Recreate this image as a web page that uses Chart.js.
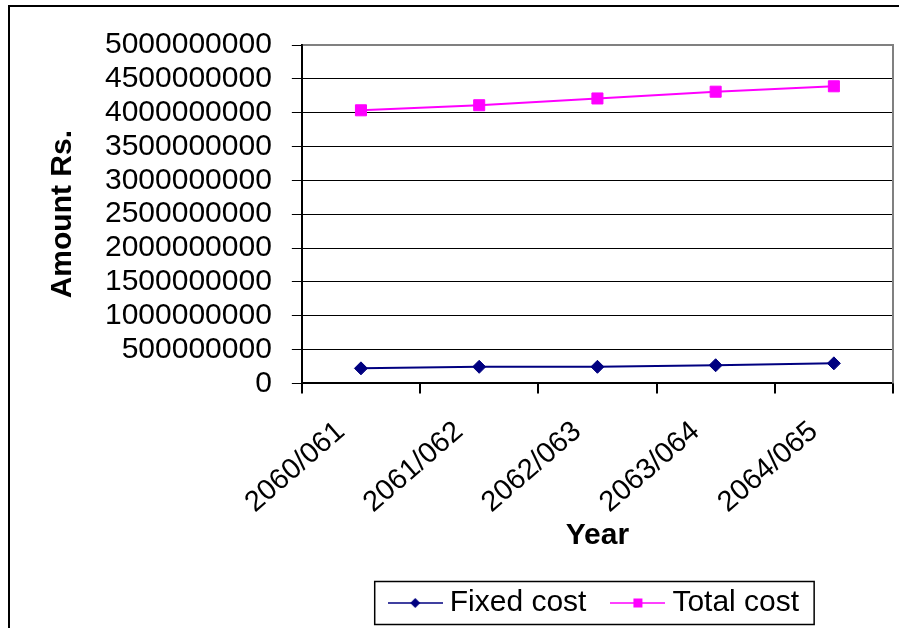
<!DOCTYPE html>
<html>
<head>
<meta charset="utf-8">
<script src="https://cdn.jsdelivr.net/npm/chart.js@4.4.1/dist/chart.umd.min.js"></script>
<style>
  html, body { margin: 0; padding: 0; background: #fff; overflow: hidden; }
  canvas { display: block; }
</style>
</head>
<body>
<canvas id="costChart" width="899" height="628"></canvas>
<script>
// Fiscal years (Nepali calendar) and cost series in rupees
const years = ['2060/061', '2061/062', '2062/063', '2063/064', '2064/065'];
const fixedCost = [222000000, 245000000, 245000000, 268000000, 296000000];
const totalCost = [4035000000, 4110000000, 4210000000, 4310000000, 4390000000];
const seriesNames = ['Fixed cost', 'Total cost'];
const yMin = 0;
const yMax = 5000000000;
const yStep = 500000000;

const FONT = '"Liberation Sans", Arial, Helvetica, sans-serif';
const NAVY = '#000080';
const MAGENTA = '#FF00FF';

// Small line-with-marker swatch used as the legend symbol
function legendSwatch(color, shape) {
  const c = document.createElement('canvas');
  c.width = 55;
  c.height = 16;
  const g = c.getContext('2d');
  g.strokeStyle = color;
  g.lineWidth = 1.5;
  g.beginPath();
  g.moveTo(0, 8);
  g.lineTo(55, 8);
  g.stroke();
  g.fillStyle = color;
  if (shape === 'diamond') {
    g.beginPath();
    g.moveTo(22.5, 8);
    g.lineTo(27.5, 3);
    g.lineTo(32.5, 8);
    g.lineTo(27.5, 13);
    g.closePath();
    g.fill();
  } else {
    g.fillRect(23, 3.5, 9, 9);
  }
  return c;
}
const swatches = [legendSwatch(NAVY, 'diamond'), legendSwatch(MAGENTA, 'square')];

// Plot frame, outer chart border and the legend box
const framePlugin = {
  id: 'frames',
  beforeDraw(chart) {
    const ctx = chart.ctx;
    ctx.save();
    ctx.fillStyle = '#fff';
    ctx.fillRect(0, 0, chart.width, chart.height);
    ctx.restore();
  },
  afterDraw(chart) {
    const { ctx, chartArea: a, legend } = chart;
    ctx.save();
    ctx.fillStyle = '#808080';
    ctx.fillRect(a.left + 1, a.top - 1, a.right - a.left, 2);
    ctx.fillRect(a.right - 1, a.top - 1, 2, a.bottom - a.top + 1);

    ctx.fillStyle = '#000';
    ctx.fillRect(8, 5, chart.width - 8, 2);
    ctx.fillRect(8, 5, 2, chart.height - 5);

    const hb = legend.legendHitBoxes;
    if (hb && hb.length) {
      const first = hb[0];
      const last = hb[hb.length - 1];
      const cy = first.top + first.height / 2;
      const left = first.left - 21;
      const right = last.left + last.width + 15;
      ctx.strokeStyle = '#000';
      ctx.lineWidth = 1.5;
      ctx.strokeRect(left, cy - 21.5, right - left, 43);
    }
    ctx.restore();
  }
};

new Chart(document.getElementById('costChart'), {
  type: 'line',
  data: {
    labels: years,
    datasets: [
      {
        label: seriesNames[0],
        data: fixedCost,
        borderColor: NAVY,
        backgroundColor: NAVY,
        borderWidth: 2,
        pointStyle: 'rectRot',
        pointRadius: 6.5,
        pointHoverRadius: 6.5,
        pointBorderWidth: 1,
        pointBorderColor: NAVY,
        pointBackgroundColor: NAVY,
        tension: 0,
        fill: false
      },
      {
        label: seriesNames[1],
        data: totalCost,
        borderColor: MAGENTA,
        backgroundColor: MAGENTA,
        borderWidth: 2,
        pointStyle: 'rect',
        pointRadius: 7.8,
        pointHoverRadius: 7.8,
        pointBorderWidth: 1,
        pointBorderColor: MAGENTA,
        pointBackgroundColor: MAGENTA,
        tension: 0,
        fill: false
      }
    ]
  },
  options: {
    responsive: false,
    animation: false,
    devicePixelRatio: 1,
    layout: { autoPadding: false, padding: { left: 0, right: 6, top: 45, bottom: 0 } },
    plugins: {
      tooltip: { enabled: false },
      legend: {
        position: 'bottom',
        fullSize: false,
        labels: {
          usePointStyle: true,
          pointStyleWidth: 39,
          padding: 32,
          color: '#000',
          font: { family: FONT, size: 30 },
          generateLabels(chart) {
            return chart.data.datasets.map((ds, i) => ({
              text: ds.label,
              pointStyle: swatches[i],
              fillStyle: ds.borderColor,
              strokeStyle: ds.borderColor,
              lineWidth: 0,
              hidden: false,
              datasetIndex: i,
              fontColor: '#000'
            }));
          }
        }
      }
    },
    scales: {
      x: {
        offset: true,
        afterFit(scale) {
          // rotated labels lean left, so no extra room is needed on the right
          scale.paddingRight = 0;
        },
        grid: {
          offset: true,
          drawOnChartArea: false,
          drawTicks: true,
          tickLength: 10,
          color: '#000',
          lineWidth: 2
        },
        border: { color: '#000', width: 2 },
        ticks: {
          autoSkip: false,
          minRotation: 41,
          maxRotation: 41,
          padding: 21,
          labelOffset: -20,
          color: '#000',
          font: { family: FONT, size: 29 }
        },
        title: {
          display: true,
          text: 'Year',
          color: '#000',
          font: { family: FONT, size: 30, weight: 'bold' },
          padding: { top: -23.5, bottom: 2.5 }
        }
      },
      y: {
        min: yMin,
        max: yMax,
        grid: { color: '#000', lineWidth: 1, tickLength: 10 },
        border: { color: '#000', width: 2 },
        ticks: {
          stepSize: yStep,
          autoSkip: false,
          padding: 20,
          color: '#000',
          font: { family: FONT, size: 30, lineHeight: 0.9 },
          callback: v => String(v)
        },
        title: {
          display: true,
          text: 'Amount Rs.',
          color: '#000',
          font: { family: FONT, size: 30, weight: 'bold' },
          padding: { top: 45, bottom: 4 }
        }
      }
    }
  },
  plugins: [framePlugin]
});
</script>
</body>
</html>
